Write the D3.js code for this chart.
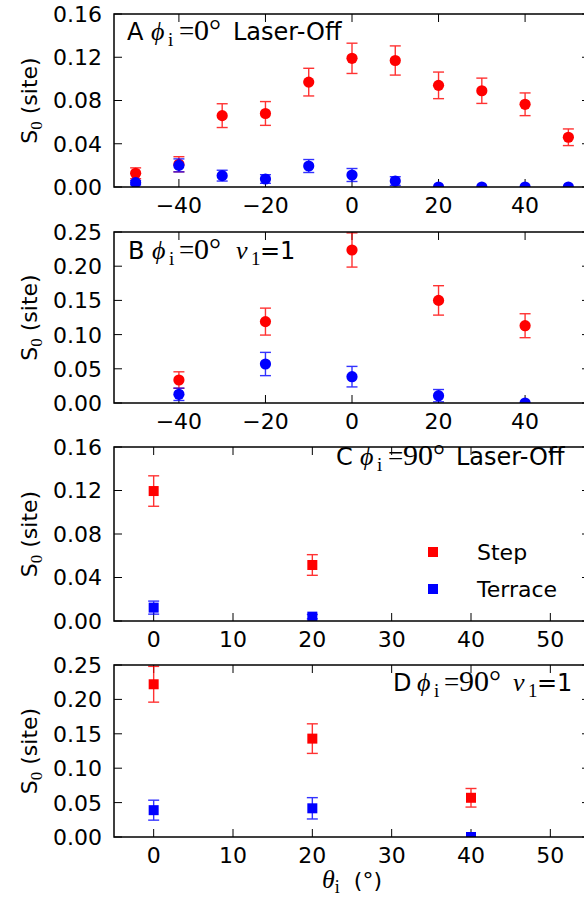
<!DOCTYPE html>
<html>
<head>
<meta charset="utf-8">
<script src="https://cdn.jsdelivr.net/npm/d3@7"></script>
<style>
  body { margin: 0; background: #fff; }
  svg { display: block; }
  text { font-family: "DejaVu Sans", sans-serif; fill: #000; }
  .serif { font-family: "Liberation Serif", "DejaVu Serif", serif; }
</style>
</head>
<body>
<svg id="chart" width="584" height="903"></svg>
<script>
// ---- data ----
const xA = [-50, -40, -30, -20, -10, 0, 10, 20, 30, 40, 50];
const stepA = [0.0127, 0.021, 0.066, 0.068, 0.097, 0.119, 0.117, 0.094, 0.089, 0.0765, 0.046];
const stepAErr = [0.005, 0.007, 0.011, 0.011, 0.0128, 0.014, 0.0135, 0.0123, 0.0117, 0.0105, 0.0077];
const terrA = [0.004, 0.020, 0.0105, 0.0074, 0.0194, 0.0111, 0.0055, 0, 0, 0, 0];
const terrAErr = [0.002, 0.006, 0.005, 0.004, 0.006, 0.006, 0.004, 0, 0, 0, 0];

const xB = [-40, -20, 0, 20, 40];
const stepB = [0.0336, 0.119, 0.2237, 0.150, 0.113];
const stepBErr = [0.012, 0.0197, 0.025, 0.0215, 0.0175];
const terrB = [0.0127, 0.057, 0.0385, 0.0107, 0];
const terrBErr = [0.009, 0.017, 0.015, 0.009, 0];

const xC = [0, 20];
const stepC = [0.1195, 0.0515];
const stepCErr = [0.014, 0.0095];
const terrC = [0.0123, 0.004];
const terrCErr = [0.006, 0.002];

const xD = [0, 20, 40];
const stepD = [0.222, 0.143, 0.057];
const stepDErr = [0.026, 0.0215, 0.0135];
const terrD = [0.039, 0.0417, 0];
const terrDErr = [0.0145, 0.0155, 0];

const xTicksAB = [-40, -20, 0, 20, 40];
const xTicksCD = [0, 10, 20, 30, 40, 50];
const yTicks016 = [0, 0.04, 0.08, 0.12, 0.16];
const yTicks025 = [0, 0.05, 0.10, 0.15, 0.20, 0.25];
const seriesNames = ["Step", "Terrace"];
const seriesColors = ["#ff0000", "#0000ff"];

// ---- layout ----
const svg = d3.select("#chart");
const left = 114, right = 590;

// label pieces: [text, kind, offset from label start]
function laserLabel(letter, val, valW) {
  return [[letter, "sans", 0], ["\u03d5", "greek", 24], ["i", "sub", 41], ["=", "op", 52], [val, "math", 67],
          ["Laser-Off", "sans", 67 + valW + 11]];
}
function nuLabel(letter, val, valW) {
  return [[letter, "sans", 0], ["\u03d5", "greek", 24], ["i", "sub", 41], ["=", "op", 51], [val, "math", 66],
          ["\u03bd", "greek", 66 + valW + 14], ["1", "sub", 66 + valW + 29], ["=1", "sans", 66 + valW + 38]];
}

const panels = [
  { id: "A", top: 14, bottom: 187, xdom: [-55, 55], xt: xTicksAB, ydom: [0, 0.16], yt: yTicks016,
    x: xA, s: [[stepA, stepAErr], [terrA, terrAErr]], shape: "circle",
    label: { x: 127, y: 40, pieces: laserLabel("A", "0°", 28) } },
  { id: "B", top: 232, bottom: 403, xdom: [-55, 55], xt: xTicksAB, ydom: [0, 0.25], yt: yTicks025,
    x: xB, s: [[stepB, stepBErr], [terrB, terrBErr]], shape: "circle",
    label: { x: 128, y: 259, pieces: nuLabel("B", "0°", 28) } },
  { id: "C", top: 447, bottom: 621, xdom: [-5, 55], xt: xTicksCD, ydom: [0, 0.16], yt: yTicks016,
    x: xC, s: [[stepC, stepCErr], [terrC, terrCErr]], shape: "square",
    label: { x: 336, y: 465, pieces: laserLabel("C", "90°", 42) }, legend: true },
  { id: "D", top: 665, bottom: 837, xdom: [-5, 55], xt: xTicksCD, ydom: [0, 0.25], yt: yTicks025,
    x: xD, s: [[stepD, stepDErr], [terrD, terrDErr]], shape: "square",
    label: { x: 393, y: 691, pieces: nuLabel("D", "90°", 40) } }
];

const tickLen = 8;
const tickFont = 22;
const fmtY = d3.format(".2f");
const minus = s => s.replace("-", "\u2212");

panels.forEach((p, pi) => {
  const x = d3.scaleLinear().domain(p.xdom).range([left, right]);
  const y = d3.scaleLinear().domain(p.ydom).range([p.bottom, p.top]);
  const g = svg.append("g");

  const clipId = "clip" + p.id;
  svg.append("clipPath").attr("id", clipId)
    .append("rect").attr("x", left).attr("y", p.top)
    .attr("width", right - left).attr("height", p.bottom - p.top);

  // ticks (inward, all four sides)
  const tg = g.append("g").attr("stroke", "#000").attr("stroke-width", 1);
  p.xt.forEach(t => {
    tg.append("line").attr("x1", x(t)).attr("x2", x(t)).attr("y1", p.bottom).attr("y2", p.bottom - tickLen);
    tg.append("line").attr("x1", x(t)).attr("x2", x(t)).attr("y1", p.top).attr("y2", p.top + tickLen);
  });
  p.yt.forEach(t => {
    tg.append("line").attr("x1", left).attr("x2", left + tickLen).attr("y1", y(t)).attr("y2", y(t));
    tg.append("line").attr("x1", right).attr("x2", right - tickLen).attr("y1", y(t)).attr("y2", y(t));
  });

  // tick labels
  p.xt.forEach(t => {
    g.append("text").attr("x", x(t)).attr("y", p.bottom + 26)
      .attr("text-anchor", "middle").attr("font-size", tickFont)
      .text(minus(d3.format("d")(t)));
  });
  p.yt.forEach(t => {
    g.append("text").attr("x", left - 12).attr("y", y(t)).attr("dy", "0.36em")
      .attr("text-anchor", "end").attr("font-size", tickFont)
      .text(fmtY(t));
  });

  // y label
  const yl = g.append("text")
    .attr("transform", `translate(37,${(p.top + p.bottom) / 2}) rotate(-90)`)
    .attr("text-anchor", "middle").attr("font-size", 22);
  yl.append("tspan").text("S");
  yl.append("tspan").attr("class", "serif").attr("font-size", 17).attr("dy", 5).text("0");
  yl.append("tspan").attr("dy", -5).text(" (site)");

  // data
  const dg = g.append("g").attr("clip-path", `url(#${clipId})`);
  p.s.forEach(([vals, errs], si) => {
    const col = seriesColors[si];
    const sg = dg.append("g");
    p.x.forEach((xv, i) => {
      const cx = x(xv), v = vals[i], e = errs[i];
      if (e > 0) {
        const eg = sg.append("g").attr("stroke", col).attr("stroke-width", 1.4).attr("opacity", 0.8);
        eg.append("line").attr("x1", cx).attr("x2", cx).attr("y1", y(v - e)).attr("y2", y(v + e));
        eg.append("line").attr("x1", cx - 5.5).attr("x2", cx + 5.5).attr("y1", y(v - e)).attr("y2", y(v - e));
        eg.append("line").attr("x1", cx - 5.5).attr("x2", cx + 5.5).attr("y1", y(v + e)).attr("y2", y(v + e));
      }
      if (p.shape === "circle") {
        sg.append("circle").attr("cx", cx).attr("cy", y(v)).attr("r", 5.6).attr("fill", col);
      } else {
        sg.append("rect").attr("x", cx - 5).attr("y", y(v) - 5).attr("width", 10).attr("height", 10).attr("fill", col);
      }
    });
  });

  // spines
  g.append("rect").attr("x", left).attr("y", p.top)
    .attr("width", right - left).attr("height", p.bottom - p.top)
    .attr("fill", "none").attr("stroke", "#000").attr("stroke-width", 1.5);

  // panel label
  const L = p.label;
  L.pieces.forEach(([txt, kind, off]) => {
    const t = g.append("text").attr("x", L.x + off).attr("y", L.y).text(txt);
    if (kind === "sans") t.attr("font-size", 24);
    else if (kind === "greek") t.attr("class", "serif").attr("font-size", 26).attr("font-style", "italic");
    else if (kind === "op") t.attr("class", "serif").attr("font-size", 27);
    else if (kind === "math") t.attr("class", "serif").attr("font-size", 30);
    else t.attr("class", "serif").attr("font-size", 19).attr("y", L.y + 6);
  });

  // legend
  if (p.legend) {
    seriesNames.forEach((name, si) => {
      const ly = 552 + si * 37;
      g.append("rect").attr("x", 433 - 5).attr("y", ly - 5).attr("width", 10).attr("height", 10)
        .attr("fill", seriesColors[si]);
      g.append("text").attr("x", 477).attr("y", ly).attr("dy", "0.36em")
        .attr("font-size", 22).text(name);
    });
  }

  // x label on bottom panel
  if (pi === panels.length - 1) {
    const xl = svg.append("text").attr("x", (left + right) / 2).attr("y", 888)
      .attr("text-anchor", "middle").attr("font-size", 22);
    xl.append("tspan").attr("class", "serif").attr("font-style", "italic").attr("font-size", 26).text("\u03b8");
    xl.append("tspan").attr("class", "serif").attr("font-size", 18).attr("dy", 5).text("i");
    xl.append("tspan").attr("dy", -5).text("\u00a0\u00a0(°)");
  }
});
</script>
</body>
</html>
